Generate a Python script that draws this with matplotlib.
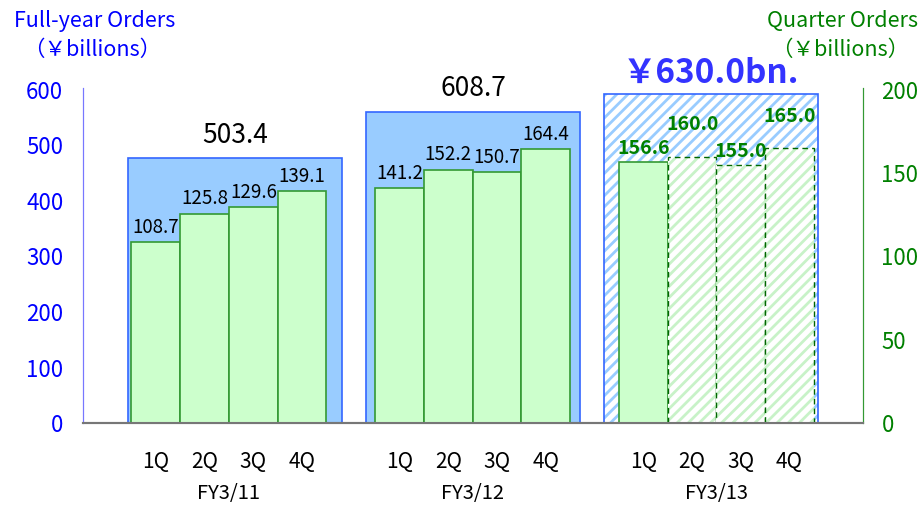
import matplotlib
matplotlib.use("Agg")
import matplotlib.pyplot as plt
from matplotlib import transforms

plt.rcParams['font.family'] = ['Noto Sans CJK JP', 'DejaVu Sans']
plt.rcParams['hatch.linewidth'] = 2.0

# data
years = ['FY3/11', 'FY3/12', 'FY3/13']
quarters = ['1Q', '2Q', '3Q', '4Q']
q_orders = [[108.7, 125.8, 129.6, 139.1],
            [141.2, 152.2, 150.7, 164.4],
            [156.6, 160.0, 155.0, 165.0]]
q_forecast = [[False, False, False, False],
              [False, False, False, False],
              [False, True, True, True]]
fy_labels = ['503.4', '608.7', '￥630.0bn.']
fy_heights = [477, 561, 593]   # full-year boxes as drawn in the picture (left scale)
fy_forecast = [False, False, True]
label_raise = [[0, 0, 0, 0], [0, 0, 0, 0], [0, 13, 0, 13]]

fig = plt.figure(figsize=(9.22, 5.08), dpi=100)
ax = fig.add_axes([0.0897, 0.1673, 0.846, 0.6595])
ax2 = ax.twinx()

ax.set_xlim(0, 16)
ax.set_ylim(0, 603.6)
ax2.set_ylim(0, 201.2)

blue_edge = '#3366FF'
green_edge = '#339933'
centers = []
for i, y in enumerate(years):
    start = 1 + 5 * i
    # full-year box
    left = 0.93 + 4.885 * i
    w = 4.39
    if fy_forecast[i]:
        ax.bar(left, fy_heights[i], width=w, align='edge', color='white',
               edgecolor='#99CCFF', hatch='///', linewidth=0)
        ax.bar(left, fy_heights[i], width=w, align='edge', fill=False,
               edgecolor=blue_edge, linewidth=1.2)
        ax.annotate(fy_labels[i], (left + w / 2, fy_heights[i]), xytext=(0, 3),
                    textcoords='offset points', ha='center', va='bottom',
                    fontsize=24, fontweight='bold', color='#3333FF')
    else:
        ax.bar(left, fy_heights[i], width=w, align='edge', color='#99CCFF',
               edgecolor=blue_edge, linewidth=1.2)
        ax.annotate(fy_labels[i], (left + w / 2, fy_heights[i]), xytext=(0, 7),
                    textcoords='offset points', ha='center', va='bottom',
                    fontsize=19, color='black')
    # quarter bars
    for j, v in enumerate(q_orders[i]):
        x = start + j
        centers.append(x + 0.5)
        if q_forecast[i][j]:
            ax2.bar(x, v, width=1, align='edge', color='white',
                    edgecolor='#C8F2C8', hatch='///', linewidth=0)
            ax2.bar(x, v, width=1, align='edge', fill=False,
                    edgecolor='#006600', linewidth=1.0, linestyle=(0, (4, 3)))
        else:
            ax2.bar(x, v, width=1, align='edge', color='#CCFFCC',
                    edgecolor=green_edge, linewidth=1.2)
        if fy_forecast[i]:
            ax2.annotate(f'{v:.1f}', (x + 0.5, v), xytext=(0, 3 + label_raise[i][j]),
                         textcoords='offset points', ha='center', va='bottom',
                         fontsize=14, fontweight='bold', color='#008000')
        else:
            ax2.annotate(f'{v:.1f}', (x + 0.5, v), xytext=(0, 3),
                         textcoords='offset points', ha='center', va='bottom',
                         fontsize=13.5, color='black')

ax.set_xticks(centers, quarters * len(years))
ax.tick_params(axis='x', length=0, pad=20, labelsize=15)
trans = transforms.blended_transform_factory(ax.transData, ax.transAxes)
for i, y in enumerate(years):
    ax.text(3 + 5 * i, -0.21, y, transform=trans, ha='center', va='center',
            fontsize=14.5)

ax.set_yticks([0, 100, 200, 300, 400, 500, 600])
ax.tick_params(axis='y', length=0, pad=14, labelsize=16, labelcolor='#0000FF')
ax2.set_yticks([0, 50, 100, 150, 200])
ax2.tick_params(axis='y', length=0, pad=13.5, labelsize=16, labelcolor='#008000')

for a in (ax, ax2):
    a.spines['top'].set_visible(False)
    a.spines['bottom'].set_color('#777777')
    a.spines['bottom'].set_linewidth(1.5)
    a.spines['left'].set_color('#7777FF')
    a.spines['right'].set_color('#339933')

fig.text(95 / 922, 1 - 21 / 508, 'Full-year Orders', ha='center', va='center',
         fontsize=15.5, color='#0000FF')
fig.text(92 / 922, 1 - 50 / 508, '（￥billions）', ha='center', va='center',
         fontsize=15.5, color='#0000FF')
fig.text(842 / 922, 1 - 21 / 508, 'Quarter Orders', ha='center', va='center',
         fontsize=15.5, color='#008000')
fig.text(840 / 922, 1 - 50 / 508, '（￥billions）', ha='center', va='center',
         fontsize=15.5, color='#008000')

fig.savefig('out.png', dpi=100)
